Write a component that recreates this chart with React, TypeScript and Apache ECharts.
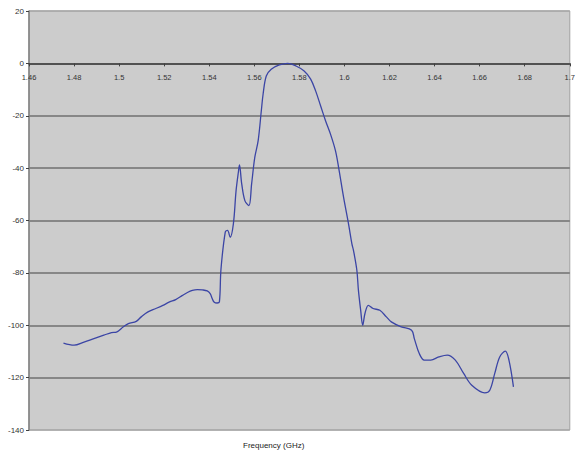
import React, { useEffect, useRef } from "react";
import * as echarts from "echarts";

const freqGHz = [
  1.4753, 1.48, 1.4844, 1.4888, 1.4932, 1.4966, 1.4988, 1.5019, 1.5041, 1.5076,
  1.5098, 1.5128, 1.5163, 1.5194, 1.5224, 1.5251, 1.5281, 1.5303, 1.5325, 1.5347,
  1.5369, 1.5391, 1.5404, 1.5413, 1.5421, 1.5435, 1.5445, 1.5452, 1.5471, 1.5481,
  1.5493, 1.5507, 1.5519, 1.553, 1.5534, 1.5544, 1.5558, 1.5576, 1.5588, 1.5602,
  1.5617, 1.5631, 1.5639, 1.5653, 1.5675, 1.5711, 1.5748, 1.5785, 1.5821, 1.585,
  1.5872, 1.5894, 1.5916, 1.5938, 1.596, 1.5974, 1.5996, 1.6018, 1.6033, 1.604,
  1.6055, 1.6062, 1.6072, 1.6081, 1.6091, 1.6106, 1.6127, 1.6157, 1.6186, 1.6208,
  1.6252, 1.6298, 1.631, 1.6332, 1.6354, 1.6383, 1.6419, 1.6456, 1.6492, 1.6529,
  1.6565, 1.6623, 1.6645, 1.6667, 1.6689, 1.6714, 1.673, 1.675,
];

const responseDb = [
  -106.8, -107.6, -106.4, -105.1, -103.8, -102.8, -102.6, -100.6, -99.4, -98.5,
  -96.8, -94.9, -93.6, -92.4, -91.1, -90.2, -88.6, -87.5, -86.7, -86.4,
  -86.5, -86.9, -87.9, -89.8, -91.1, -91.5, -91.1, -78.6, -64.4, -63.8,
  -66.4, -61.3, -48.6, -41.0, -38.8, -46.0, -52.4, -54.3, -46.0, -35.9,
  -29.5, -18.1, -11.7, -4.8, -2.2, -0.6, 0, -1.0, -2.9, -6.0,
  -10.5, -16.2, -21.9, -27.0, -33.3, -39.7, -51.1, -61.3, -68.9, -71.4,
  -79.0, -86.7, -94.3, -100.0, -95.5, -92.4, -93.6, -94.3, -96.8, -98.7,
  -100.6, -101.9, -105.1, -110.8, -113.3, -113.3, -112.1, -111.4, -113.3, -118.4,
  -122.9, -125.8, -124.8, -118.4, -112.1, -109.9, -113.3, -123.5,
];

const xMin = 1.46;
const xMax = 1.7;
const xStep = 0.02;
const yMin = -140;
const yMax = 20;
const yStep = 20;
const xAxisTitle = "Frequency (GHz)";

const GRID_TOP = 11;
const GRID_BOTTOM = 22;
const HEIGHT = 452;

export default function App() {
  const ref = useRef<HTMLDivElement>(null);

  useEffect(() => {
    if (!ref.current) return;
    const chart = echarts.init(ref.current, undefined, { renderer: "svg" });
    const splitColors: string[] = [];
    for (let v = yMin; v <= yMax; v += yStep) {
      splitColors.push(v === yMin || v === yMax ? "#a8a8a8" : "#707070");
    }
    const plotH = HEIGHT - GRID_TOP - GRID_BOTTOM;
    const zeroFromBottom = (plotH * (0 - yMin)) / (yMax - yMin);
    chart.setOption({
      animation: false,
      backgroundColor: "#ffffff",
      textStyle: { fontFamily: "Liberation Sans, Arial, sans-serif" },
      grid: {
        left: 29,
        right: 1,
        top: GRID_TOP,
        bottom: GRID_BOTTOM,
        show: true,
        backgroundColor: "#cccccc",
        borderColor: "#a0a0a0",
        borderWidth: 1,
      },
      xAxis: {
        type: "value",
        min: xMin,
        max: xMax,
        interval: xStep,
        position: "bottom",
        offset: -zeroFromBottom,
        axisLine: { show: true, onZero: false, lineStyle: { color: "#404040", width: 1.5 } },
        axisTick: { show: true, length: 3, lineStyle: { color: "#404040" } },
        axisLabel: {
          fontSize: 7.5,
          color: "#333",
          margin: 10,
          alignMinLabel: "center",
          alignMaxLabel: "center",
          formatter: (v: number) => String(parseFloat(v.toFixed(2))),
        },
        splitLine: { show: false },
      },
      yAxis: {
        type: "value",
        min: yMin,
        max: yMax,
        interval: yStep,
        axisLine: { show: true, lineStyle: { color: "#808080", width: 1.5 } },
        axisTick: { show: true, length: 3, lineStyle: { color: "#404040" } },
        axisLabel: { fontSize: 8, color: "#333", margin: 5 },
        splitLine: { show: true, lineStyle: { color: splitColors, width: 1.6 } },
      },
      graphic: [
        {
          type: "text",
          left: 274 - 31,
          top: 441,
          style: {
            text: xAxisTitle,
            fontSize: 8,
            fill: "#222",
            fontFamily: "Liberation Sans, Arial, sans-serif",
          },
        },
      ],
      series: [
        {
          type: "line",
          data: freqGHz.map((f, i) => [f, responseDb[i]]),
          smooth: 0.35,
          showSymbol: false,
          lineStyle: { color: "#3b45a5", width: 1.3 },
        },
      ],
    });
    return () => chart.dispose();
  }, []);

  return (
    <div
      ref={ref}
      style={{ position: "fixed", left: 0, top: 0, width: 578, height: 452 }}
    />
  );
}
